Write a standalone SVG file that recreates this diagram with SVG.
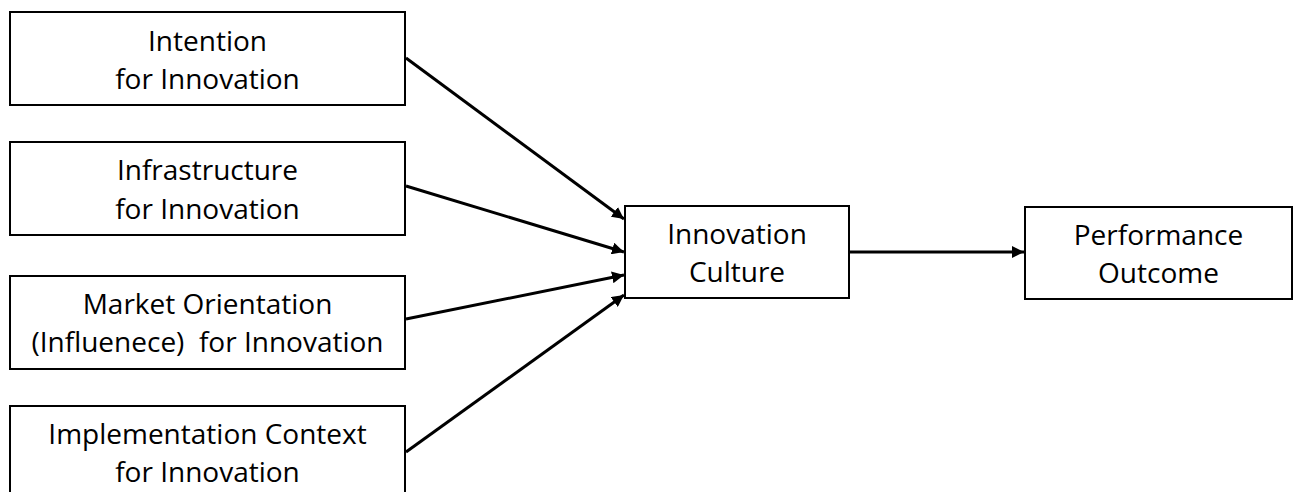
<svg xmlns="http://www.w3.org/2000/svg" width="1295" height="492" viewBox="0 0 1295 492">
<style>
.box{fill:#fff;stroke:#000;stroke-width:2}
.lbl{font-family:"Open Sans","Noto Sans","Liberation Sans",sans-serif;font-size:28px;fill:#000;text-anchor:middle;white-space:pre}
.con{stroke:#000;stroke-width:3;fill:none;marker-end:url(#ah)}
</style>
<defs>
<marker id="ah" viewBox="0 0 10 10" refX="10" refY="5" markerWidth="4" markerHeight="4" markerUnits="strokeWidth" orient="auto">
<path d="M0,0 L10,5 L0,10 z" fill="#000"/>
</marker>
</defs>
<rect width="1295" height="492" fill="#fff"/>
<g id="connectors">
<line class="con" x1="406" y1="58" x2="624" y2="219"/>
<line class="con" x1="406" y1="186" x2="624" y2="252"/>
<line class="con" x1="406" y1="319" x2="624" y2="275"/>
<line class="con" x1="406" y1="452" x2="624" y2="295"/>
<line class="con" x1="849" y1="252" x2="1024" y2="252"/>
</g>
<g id="intention">
<rect class="box" x="10" y="12" width="395" height="93"/>
<text class="lbl" x="207.5" y="51">Intention</text>
<text class="lbl" x="207.5" y="89">for Innovation</text>
</g>
<g id="infrastructure">
<rect class="box" x="10" y="142" width="395" height="93"/>
<text class="lbl" x="207.5" y="180">Infrastructure</text>
<text class="lbl" x="207.5" y="219">for Innovation</text>
</g>
<g id="market">
<rect class="box" x="10" y="276" width="395" height="93"/>
<text class="lbl" x="207.5" y="314">Market Orientation</text>
<text class="lbl" x="207.5" y="352" xml:space="preserve">(Influenece)  for Innovation</text>
</g>
<g id="implementation">
<rect class="box" x="10" y="406" width="395" height="93"/>
<text class="lbl" x="207.5" y="444">Implementation Context</text>
<text class="lbl" x="207.5" y="482">for Innovation</text>
</g>
<g id="culture">
<rect class="box" x="625" y="206" width="224" height="92"/>
<text class="lbl" x="737" y="244">Innovation</text>
<text class="lbl" x="737" y="282">Culture</text>
</g>
<g id="performance">
<rect class="box" x="1025" y="207" width="267" height="92"/>
<text class="lbl" x="1158.5" y="245">Performance</text>
<text class="lbl" x="1158.5" y="283">Outcome</text>
</g>
</svg>
